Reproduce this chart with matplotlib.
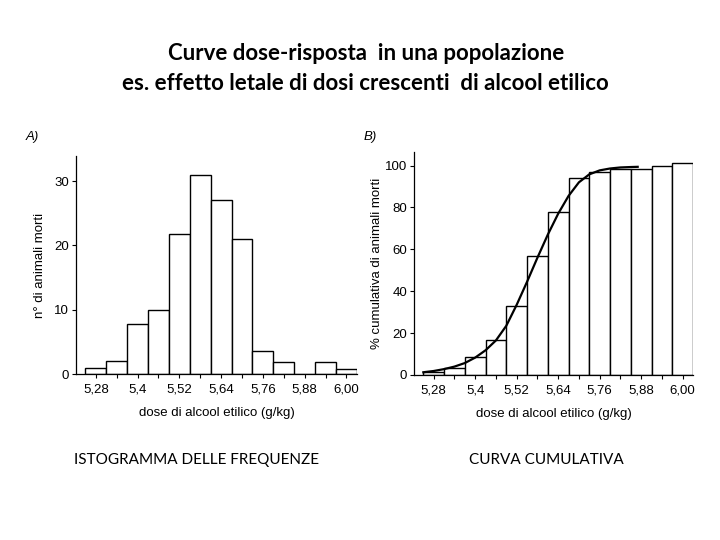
import numpy as np
import matplotlib
matplotlib.use('Agg')
import matplotlib.pyplot as plt

# data
dose = [5.28, 5.34, 5.40, 5.46, 5.52, 5.58, 5.64, 5.70, 5.76, 5.82, 5.88, 5.94, 6.00]
morti = [1, 2, 7.8, 9.9, 21.7, 31, 27, 21, 3.5, 1.8, 0, 1.8, 0.8]
cumul = [1.4, 3.3, 8.6, 16.6, 33, 57, 77.8, 94, 97, 98.2, 98.2, 100, 101]
curva_x = [5.25, 5.28, 5.31, 5.34, 5.37, 5.40, 5.43, 5.46, 5.49, 5.52, 5.55,
           5.58, 5.61, 5.64, 5.67, 5.70, 5.73, 5.76, 5.79, 5.82, 5.85, 5.87]
curva_y = [1.3, 1.9, 2.8, 4.0, 5.7, 8.3, 11.8, 16.5, 23.5, 33.5, 44.5,
           56.0, 67.0, 77.0, 85.5, 92.0, 95.8, 97.7, 98.6, 99.1, 99.3, 99.4]
xtick_pos = [5.28, 5.40, 5.52, 5.64, 5.76, 5.88, 6.00]
xtick_lab = ['5,28', '5,4', '5,52', '5,64', '5,76', '5,88', '6,00']

plt.rcParams['font.family'] = ['Liberation Sans', 'DejaVu Sans']

fig = plt.figure(figsize=(7.2, 5.4), dpi=100)

def style(ax, ylim, yticks, ylabel, ypad):
    ax.set_xlim(5.223, 6.03)
    ax.set_ylim(*ylim)
    ax.spines['top'].set_visible(False)
    ax.spines['right'].set_visible(False)
    for s in ['left', 'bottom']:
        ax.spines[s].set_linewidth(0.9)
    ax.set_xticks(xtick_pos)
    ax.set_xticklabels(xtick_lab)
    ax.set_xticks(dose, minor=True)
    ax.set_yticks(yticks)
    ax.tick_params(axis='x', which='both', direction='out', length=3, width=0.8, labelsize=9.5, pad=4)
    ax.tick_params(axis='y', direction='out', length=3, width=0.8, labelsize=9.5, pad=2)
    ax.set_xlabel('dose di alcool etilico (g/kg)', fontsize=9.5, labelpad=8)
    ax.set_ylabel(ylabel, fontsize=9.5, labelpad=ypad)

# A) istogramma
ax1 = fig.add_axes([0.1056, 0.3074, 0.390, 0.4037])
ax1.bar(dose, morti, width=0.06, color='white', edgecolor='black', linewidth=1.0)
style(ax1, (0, 33.9), [0, 10, 20, 30], 'n° di animali morti', 6)

# B) cumulativa
ax2 = fig.add_axes([0.575, 0.3056, 0.3875, 0.413])
ax2.bar(dose, cumul, width=0.06, color='white', edgecolor='black', linewidth=1.0)
ax2.plot(curva_x, curva_y, color='black', linewidth=1.6)
style(ax2, (0, 106.5), [0, 20, 40, 60, 80, 100], '% cumulativa di animali morti', 1)

fig.text(32/720, 1 - 137/540, 'A)', fontsize=9.5, style='italic', ha='center', va='center')
fig.text(370/720, 1 - 137/540, 'B)', fontsize=9.5, style='italic', ha='center', va='center')

fig.text(0.508, 1 - 53/540, 'Curve dose-risposta  in una popolazione',
         fontsize=16, fontweight='bold', family='Lato', ha='center', va='center')
fig.text(0.507, 1 - 84/540, 'es. effetto letale di dosi crescenti  di alcool etilico',
         fontsize=16, fontweight='bold', family='Lato', ha='center', va='center')

fig.text(196.5/720, 1 - 460/540, 'ISTOGRAMMA DELLE FREQUENZE', fontsize=11, family='Lato', ha='center', va='center')
fig.text(546/720, 1 - 460/540, 'CURVA CUMULATIVA', fontsize=11, family='Lato', ha='center', va='center')

fig.savefig('out.png', dpi=100)
